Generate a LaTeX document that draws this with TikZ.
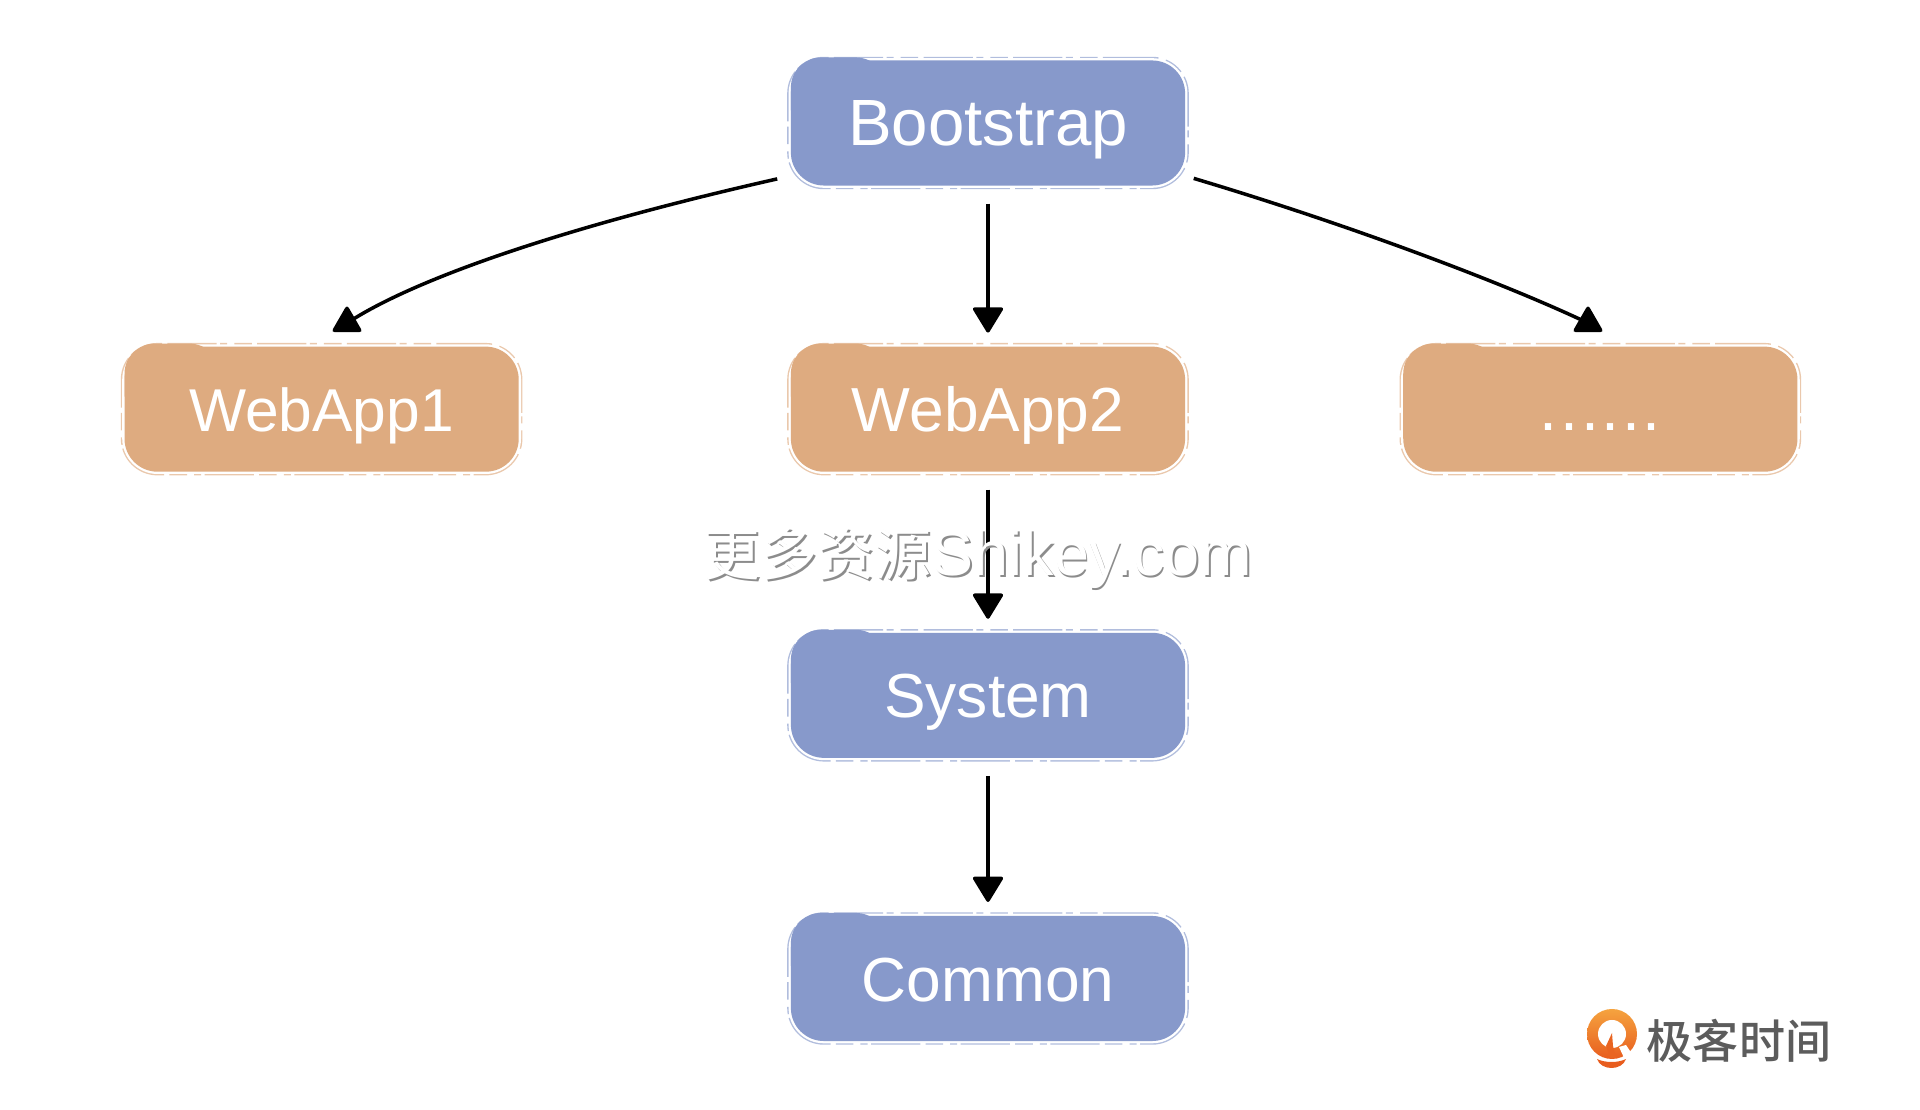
\documentclass[tikz,border=0pt]{standalone}
\usepackage{fontspec}
\setmainfont{Liberation Sans}
\newfontfamily\cjk{Noto Sans CJK SC}
\newfontfamily\cjkmedium{Noto Sans CJK SC Medium}
\usetikzlibrary{shapes.geometric, arrows.meta, positioning}

\definecolor{boxblue}{HTML}{8799CB}
\definecolor{boxorange}{HTML}{DEAB80}
\definecolor{logogray}{HTML}{5C5C5C}
\definecolor{logotop}{HTML}{F5A33F}
\definecolor{logobottom}{HTML}{E85D1E}

\begin{document}
\begin{tikzpicture}[
    x=0.01cm, y=-0.01cm,
    brush/.style={rectangle, rounded corners=0.33cm, minimum width=3.94cm, minimum height=1.25cm, inner sep=0pt, outer sep=0pt,
        text=white, text height=0.45cm, text depth=0pt, font=\fontsize{17.7}{22}\selectfont,
        preaction={draw=#1!65, line width=2.1pt, dash pattern=on 14pt off 1.5pt on 5pt off 2pt on 2pt off 1pt},
        preaction={draw=white, line width=1.3pt},
        fill=#1},
    blue box/.style={brush=boxblue},
    orange box/.style={brush=boxorange},
    wire/.style={line width=1pt, black},
    straight wire/.style={wire, -{Triangle[length=0.27cm, width=0.32cm, round]}, shorten <=0.18cm, shorten >=0.14cm},
    tip/.style={regular polygon, regular polygon sides=3, fill=black, draw=black, line width=0.5pt, rounded corners=0.6pt, minimum size=0.33cm, inner sep=0pt, outer sep=0pt},
    mark text/.style={font=\cjk\fontsize{16.2}{20}\selectfont}
]
    \useasboundingbox (0,0) rectangle (1920,1110);

    % Boxes
    \node (bootstrap) [blue box, font=\fontsize{18.6}{22}\selectfont] at (988,123) {Bootstrap};
    \node (webapp2) [orange box, below=1.61cm of bootstrap] {WebApp2};
    \node (webapp1) [orange box, left=2.72cm of webapp2, font=\fontsize{17.2}{22}\selectfont] {WebApp1};
    \node (others) [orange box, right=2.18cm of webapp2, text height=0.43cm, font=\fontsize{18.4}{22}\selectfont\addfontfeature{LetterSpace=4}] {......};
    \node (system) [blue box, below=1.61cm of webapp2] {System};
    \node (common) [blue box, below=1.58cm of system] {Common};

    % Raised top left corner of every box
    \foreach \name/\col in {bootstrap/boxblue, webapp1/boxorange, webapp2/boxorange, others/boxorange, system/boxblue, common/boxblue}
        \fill[\col] ([yshift=-0.5cm]\name.north west) [rounded corners=0.3cm] -- ([yshift=0.03cm]\name.north west) -- ([xshift=0.95cm, yshift=0.03cm]\name.north west) [sharp corners] -- ([xshift=0.95cm, yshift=-0.05cm]\name.north west) -- cycle;

    % Arrow heads of the two curved arrows
    \node (tipleft) [tip] at (347,323) {};
    \node (tipright) [tip] at (1588,323) {};

    % Paths
    \draw[wire, shorten <=0.14cm] (bootstrap.195) .. controls (560,228) and (420,278) .. (tipleft);
    \draw[wire, shorten <=0.09cm] (bootstrap.-15) .. controls (1350,225) and (1500,282) .. (tipright);
    \draw[straight wire] (bootstrap) -- (webapp2);
    \draw[straight wire] (webapp2) -- (system);
    \draw[straight wire] (system) -- (common);

    % Watermark
    \node (markshadow) [mark text, text=black!45] at (979.5,560) {更多资源{\rmfamily\fontsize{17.9}{20}\selectfont Shikey.com}};
    \node (mark) [mark text, text=white] at (978,558) {更多资源{\rmfamily\fontsize{17.9}{20}\selectfont Shikey.com}};

    % Logo
    \shade[top color=logotop, bottom color=logobottom] (1612,1034) circle (25);
    \fill[white] (1612,1034) circle (14);
    \fill[logobottom!90!logotop] (1612,1033) -- (1606,1046) -- (1610,1058) -- (1616,1058) -- (1613,1046) -- cycle;
    \fill[white] (1619,1047) -- (1626,1045) -- (1636,1060) -- (1626,1062) -- cycle;
    \fill[logobottom] (1597,1059) .. controls (1605,1063) and (1618,1063) .. (1626,1059) .. controls (1622,1071) and (1601,1071) .. cycle;
    \node (logotext) [font=\cjkmedium\fontsize{13.1}{16}\selectfont, text=logogray] at (1739,1041) {极客时间};
\end{tikzpicture}
\end{document}
